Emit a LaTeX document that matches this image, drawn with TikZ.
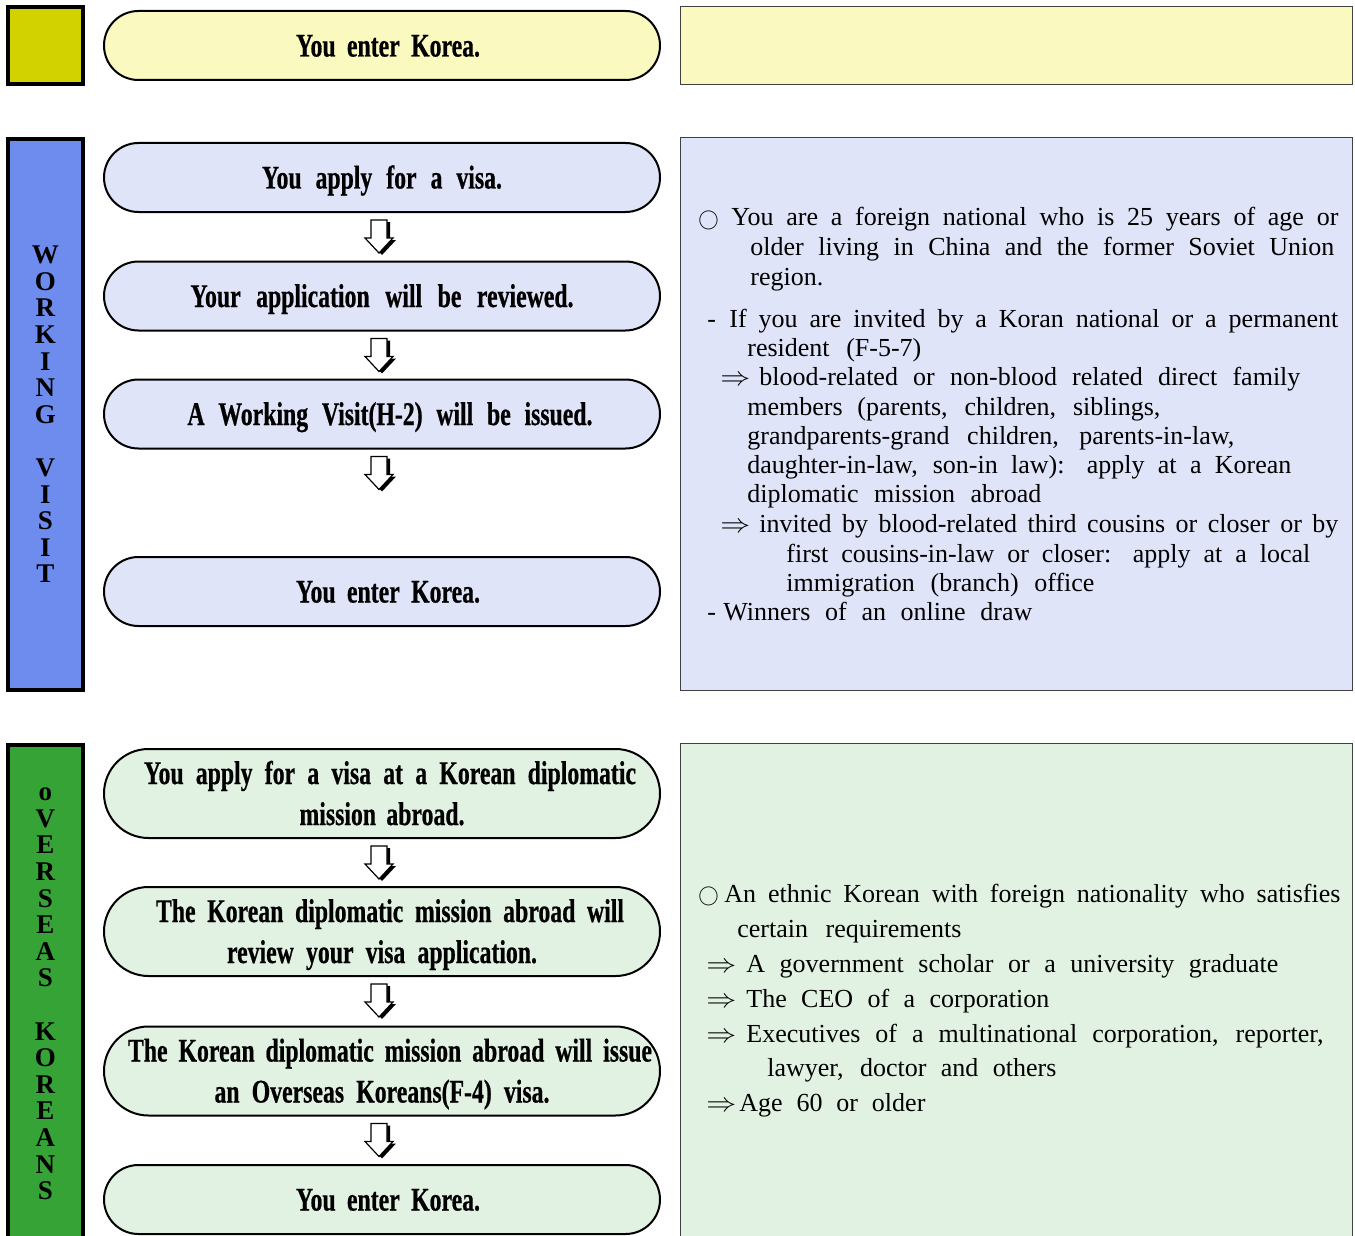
\documentclass[tikz,border=0pt]{standalone}
\usepackage{fontspec}
\usepackage{graphicx}
\setmainfont{Liberation Serif}
\newfontfamily\pillfont[FakeStretch=0.72,FakeBold=0.6]{Liberation Serif Bold}
\definecolor{topolive}{RGB}{210,210,0}
\definecolor{topcream}{RGB}{250,249,192}
\definecolor{wvblue}{RGB}{110,139,238}
\definecolor{wvpale}{RGB}{224,228,248}
\definecolor{okgreen}{RGB}{54,163,54}
\definecolor{okpale}{RGB}{226,242,226}
\newcommand\pilline[2]{\raisebox{0pt}[11pt][0pt]{\makebox[#1pt][s]{#2}}}
\newcommand\ring{\raisebox{0.4pt}{\scalebox{0.85}{$\bigcirc$}}}
\newcommand\impl{\scalebox{1.25}[1.1]{$\Rightarrow$}}
\newcommand\flowarrow[1]{%
	\begin{scope}[shift={(#1.south)}]
	\fill[black] (-8,9) -- (8,9) -- (8,27) -- (14,27) -- (0,42) -- (-14,27) -- (-8,27) -- cycle;
	\filldraw[fill=white,draw=black,line width=0.6pt] (-11,7) -- (5,7) -- (5,25) -- (11,25) -- (-3,40) -- (-17,25) -- (-11,25) -- cycle;
	\end{scope}}
\begin{document}
\begin{tikzpicture}[x=0.5pt,y=-0.5pt,
	pill/.style={draw=black,line width=1pt,rounded corners=17.25pt,minimum width=278pt,minimum height=34.5pt,inner sep=0pt,align=center,font={\pillfont\fontsize{16.5}{20.5}\selectfont}},
	tallpill/.style={pill,rounded corners=22.25pt,minimum height=44.5pt},
	sidebar/.style={draw=black,line width=2pt,minimum width=37.5pt,inner sep=0pt,align=center,font={\bfseries\fontsize{13.5}{13.3}\selectfont}},
	infobox/.style={draw=black!75,line width=0.5pt,minimum width=336pt,inner sep=0pt},
	infoline/.style={anchor=base west,inner sep=0pt,font={\fontsize{13}{15}\selectfont}}]
\def\SPACER{13.3pt}
	\useasboundingbox (0,0) rectangle (1355,1236);

	\node[sidebar,fill=topolive,minimum height=38.5pt] (topbar) at (45.5,45.5) {};
	\node[pill,fill=topcream] (topenter) at (382,45.5) {\hspace{6pt}\pilline{92}{You enter Korea.}};
	\node[infobox,fill=topcream,minimum height=39pt] (topinfo) at (1016.5,45.5) {};

	\node[sidebar,fill=wvblue,minimum height=275.5pt] (wvbar) at (45.5,414.5) {W\\O\\R\\K\\I\\N\\G\\[\SPACER]V\\I\\S\\I\\T};
	\node[pill,fill=wvpale] (wvapply) at (382,177.5) {\pilline{120}{You apply for a visa.}};
	\node[pill,fill=wvpale] (wvreview) at (382,296) {\pilline{191.5}{Your application will be reviewed.}};
	\node[pill,fill=wvpale] (wvissue) at (382,414) {\hspace{8pt}\pilline{202.5}{A Working Visit(H-2) will be issued.}};
	\node[pill,fill=wvpale] (wventer) at (382,591.5) {\hspace{6pt}\pilline{92}{You enter Korea.}};
	\flowarrow{wvapply}
	\flowarrow{wvreview}
	\flowarrow{wvissue}
	\node[infobox,fill=wvpale,minimum height=276.5pt] (wvinfo) at (1016.5,414) {};
	\node[infoline] (wvline1) at (698,226) {\makebox[16.5pt][l]{\ring}\makebox[303.5pt][s]{You are a foreign national who is 25 years of age or}};
	\node[infoline] (wvline2) at (750,255) {\makebox[292pt][s]{older living in China and the former Soviet Union}};
	\node[infoline] (wvline3) at (750,285) {region.};
	\node[infoline] (wvline4) at (707,327) {\makebox[11pt][l]{-}\makebox[304.5pt][s]{If you are invited by a Koran national or a permanent}};
	\node[infoline] (wvline5) at (747,356) {\makebox[87pt][s]{resident (F-5-7)}};
	\node[infoline] (wvline6) at (720,385) {\makebox[19.5pt][l]{\impl}\makebox[270.5pt][s]{blood-related or non-blood related direct family}};
	\node[infoline] (wvline7) at (747,415) {\makebox[206.5pt][s]{members (parents, children, siblings,}};
	\node[infoline] (wvline8) at (747,444) {\makebox[243.5pt][s]{grandparents-grand children, parents-in-law,}};
	\node[infoline] (wvline9) at (747,473) {\makebox[272pt][s]{daughter-in-law, son-in law): apply at a Korean}};
	\node[infoline] (wvline10) at (747,502) {\makebox[147pt][s]{diplomatic mission abroad}};
	\node[infoline] (wvline11) at (720,532) {\makebox[19.5pt][l]{\impl}\makebox[289.5pt][s]{invited by blood-related third cousins or closer or by}};
	\node[infoline] (wvline12) at (786,562) {\makebox[262pt][s]{first cousins-in-law or closer: apply at a local}};
	\node[infoline] (wvline13) at (786,591) {\makebox[154pt][s]{immigration (branch) office}};
	\node[infoline] (wvline14) at (707,620) {\makebox[8pt][l]{-}\makebox[154.5pt][s]{Winners of an online draw}};

	\node[sidebar,fill=okgreen,minimum height=249pt] (okbar) at (45.5,994) {o\\V\\E\\R\\S\\E\\A\\S\\[\SPACER]K\\O\\R\\E\\A\\N\\S};
	\node[tallpill,fill=okpale] (okapply) at (382,793.5) {\hspace{8pt}\pilline{246}{You apply for a visa at a Korean diplomatic}\\\pilline{82.5}{mission abroad.}};
	\node[tallpill,fill=okpale] (okreview) at (382,931.5) {\hspace{8pt}\pilline{234}{The Korean diplomatic mission abroad will}\\\pilline{155}{review your visa application.}};
	\node[tallpill,fill=okpale] (okissue) at (382,1071) {\hspace{8pt}\pilline{262}{The Korean diplomatic mission abroad will issue}\\\pilline{167.5}{an Overseas Koreans(F-4) visa.}};
	\node[pill,fill=okpale] (okenter) at (382,1199.5) {\hspace{6pt}\pilline{92}{You enter Korea.}};
	\flowarrow{okapply}
	\flowarrow{okreview}
	\flowarrow{okissue}
	\node[infobox,fill=okpale,minimum height=253pt] (okinfo) at (1016.5,996.5) {};
	\node[infoline] (okline1) at (698,902) {\makebox[13pt][l]{\ring}\makebox[308pt][s]{An ethnic Korean with foreign nationality who satisfies}};
	\node[infoline] (okline2) at (737,937) {\makebox[112pt][s]{certain requirements}};
	\node[infoline] (okline3) at (706,972) {\makebox[20pt][l]{\impl}\makebox[266pt][s]{A government scholar or a university graduate}};
	\node[infoline] (okline4) at (706,1007) {\makebox[20pt][l]{\impl}\makebox[151.5pt][s]{The CEO of a corporation}};
	\node[infoline] (okline5) at (706,1042) {\makebox[20pt][l]{\impl}\makebox[288.5pt][s]{Executives of a multinational corporation, reporter,}};
	\node[infoline] (okline6) at (767,1076) {\makebox[144.5pt][s]{lawyer, doctor and others}};
	\node[infoline] (okline7) at (706,1111) {\makebox[16.5pt][l]{\impl}\makebox[93pt][s]{Age 60 or older}};

\end{tikzpicture}
\end{document}
